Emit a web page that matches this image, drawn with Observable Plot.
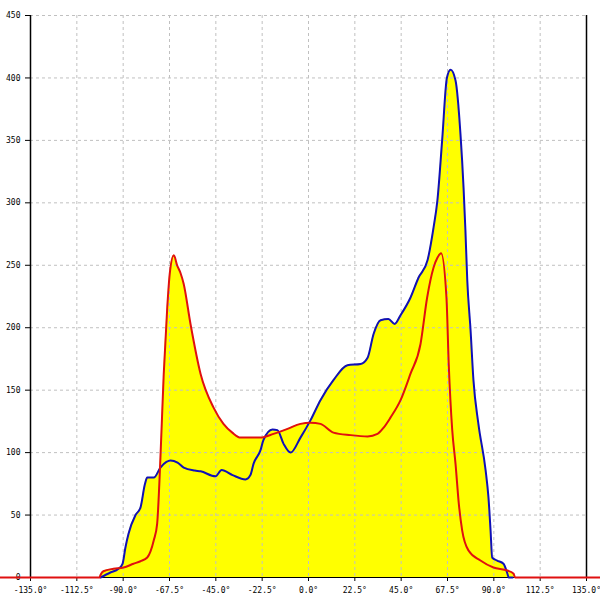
<!DOCTYPE html>
<html><head><meta charset="utf-8">
<script src="https://cdn.jsdelivr.net/npm/d3@7"></script>
<script src="https://cdn.jsdelivr.net/npm/@observablehq/plot@0.6"></script>
<style>body{margin:0;background:#fff}</style>
</head><body><div id="chart"></div>
<script>
const xTicks = [-135, -112.5, -90, -67.5, -45, -22.5, 0, 22.5, 45, 67.5, 90, 112.5, 135];
const yTicks = [0, 50, 100, 150, 200, 250, 300, 350, 400, 450];

const blueX = [-101.0, -96.2, -92.3, -90.3, -88.9, -87.4, -84.0, -81.6, -79.4, -78.3, -75.1, -71.9, -69.0, -67.0, -63.6, -60.6, -55.2, -52.4, -45.2, -42.2, -36.9, -30.6, -28.2, -26.7, -23.3, -21.9, -17.5, -15.1, -12.1, -8.7, -3.9, 1.0, 5.8, 12.1, 18.9, 25.3, 28.7, 31.6, 35.0, 38.8, 41.8, 44.7, 49.5, 53.4, 57.8, 60.7, 62.6, 64.9, 67.2, 69.0, 71.4, 73.8, 75.3, 76.2, 77.1, 78.7, 80.1, 82.5, 86.0, 87.4, 88.4, 89.2, 91.6, 94.7, 96.6, 97.2, 99.1];
const blueY = [0, 4, 7, 11, 24, 35, 50, 56, 75, 80, 80, 88, 92.5, 93.7, 92, 88, 85.6, 85, 81, 86, 82, 78.5, 82, 91, 102, 110, 118.5, 118, 107, 100, 112, 126, 142, 158, 170, 171, 176, 195, 206, 207, 203, 210, 224, 240, 254, 280, 302, 350, 400, 406.6, 398, 355, 312, 278, 238, 198, 158, 123, 86, 64, 38, 16, 13.6, 11, 3, 0, 0];

const redX = [-150, -101.5, -101.0, -99.6, -94.7, -89.8, -85.0, -81.6, -78.3, -75.1, -73.5, -71.9, -70.3, -68.6, -67.4, -65.4, -63.8, -62.2, -60.6, -57.3, -52.4, -46.1, -41.3, -37.0, -33.0, -23.3, -17.0, -10.2, -3.9, 1.0, 5.8, 12.1, 20.4, 28.7, 33.5, 36.5, 39.8, 44.7, 49.5, 54.4, 57.6, 60.7, 62.6, 64.4, 67.0, 68.1, 69.8, 71.4, 73.0, 74.6, 77.7, 83.5, 89.8, 96.6, 99.6, 100.3, 150];
const redY = [0, 0, 2, 5, 7, 8, 11, 13, 16, 30, 43, 96, 163, 216, 243, 258, 250, 244, 235, 203, 163, 136, 123, 116, 112, 112, 115, 119, 123, 124, 123, 116, 114, 113, 115, 120, 128, 142, 163, 187, 224, 248, 256, 259.6, 224, 171, 118, 91, 59, 38, 21.6, 13.6, 8, 5.6, 3, 0, 0];

const blue = blueX.map((x, i) => ({x, y: blueY[i]}));
const red = redX.map((x, i) => ({x, y: redY[i]}));

const chart = Plot.plot({
  width: 600, height: 600,
  marginLeft: 30, marginRight: 14, marginTop: 15, marginBottom: 23,
  style: {fontFamily: "DejaVu Sans Mono", fontSize: "8px", background: "#fff", color: "#000"},
  x: {domain: [-135, 135], label: null},
  y: {domain: [0, 450], label: null},
  marks: [
    Plot.areaY(blue, {x: "x", y: "y", fill: "#ffff00", curve: "monotone-x"}),
    Plot.areaY(red, {x: "x", y: "y", fill: "#ffff00", curve: "monotone-x"}),
    Plot.gridX(xTicks, {stroke: "#c0c0c0", strokeOpacity: 1, strokeDasharray: "3,3"}),
    Plot.gridY(yTicks.filter(d => d > 0), {stroke: "#c0c0c0", strokeOpacity: 1, strokeDasharray: "3,3"}),
    Plot.ruleX([-135, 135], {stroke: "#000", strokeWidth: 1.5}),
    Plot.ruleY([0], {stroke: "#000"}),
    Plot.axisX(xTicks, {tickFormat: d => d.toFixed(1) + "°", tickSize: 4, tickPadding: 6, stroke: "#000", label: null}),
    Plot.axisY(yTicks, {tickFormat: d => String(d), tickSize: 5, tickPadding: 5, stroke: "#000", label: null}),
    Plot.lineY(blue, {x: "x", y: "y", stroke: "#1010b8", strokeWidth: 2, curve: "monotone-x"}),
    Plot.lineY(red, {x: "x", y: "y", stroke: "#e01010", strokeWidth: 2, curve: "monotone-x"})
  ]
});
document.getElementById("chart").appendChild(chart);
</script>
</body></html>
